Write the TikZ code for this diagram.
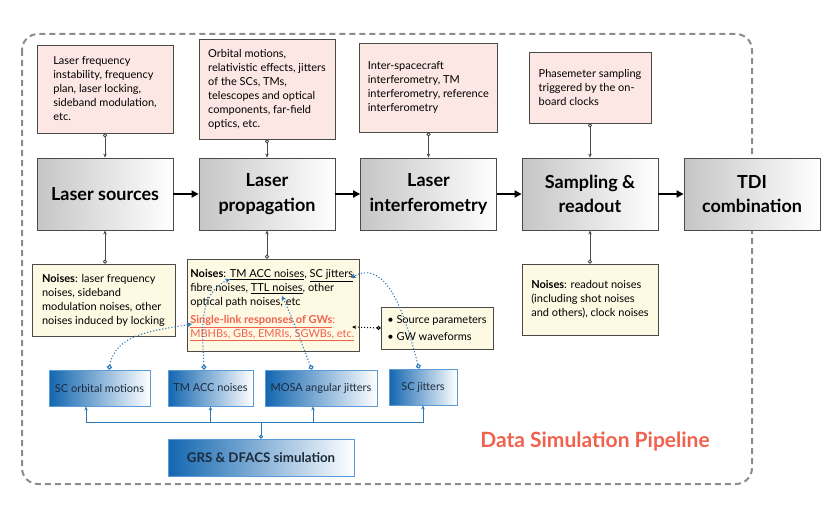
\documentclass[tikz,border=0pt]{standalone}
\usepackage{fontspec}
\setmainfont{Lato}
\usepackage{tikz}
\usetikzlibrary{arrows.meta, positioning}
\definecolor{pinkFill}{HTML}{FDE7E5}
\definecolor{noteFill}{HTML}{FEF9E3}
\definecolor{boxLine}{HTML}{4A4A4A}
\definecolor{blueDark}{HTML}{1266B0}
\definecolor{blueLine}{HTML}{5A9BD8}
\definecolor{blueLink}{HTML}{2C78B8}
\definecolor{blueText}{HTML}{1C2B3C}
\definecolor{coral}{HTML}{F2604E}
\definecolor{frameGrey}{HTML}{8C8C8C}
\tikzset{
    pinkBox/.style={
        rectangle,
        draw=boxLine,
        fill=pinkFill,
        line width=0.8pt,
        align=left,
        inner xsep=8pt,
        font=\fontsize{11}{14}\selectfont
    },
    noteBox/.style={pinkBox, fill=noteFill},
    greyBox/.style={
        rectangle,
        draw=boxLine,
        line width=0.8pt,
        left color=gray!45,
        right color=white,
        align=center,
        minimum width=136pt,
        minimum height=72pt,
        font=\fontsize{18}{24.5}\selectfont\bfseries
    },
    blueBox/.style={
        rectangle,
        draw=blueLine,
        line width=0.8pt,
        left color=blueDark,
        right color=white,
        text=blueText,
        minimum height=36pt,
        font=\fontsize{11}{13}\selectfont
    },
    feedLink/.style={{Circle[open, length=4pt, width=4pt]}-{Stealth[length=4pt, width=3.5pt]}, line width=0.8pt, draw=boxLine},
    flowLink/.style={-{Triangle[length=7pt, width=7pt]}, line width=2pt},
    gwLink/.style={{Circle[open, length=5pt, width=5pt]}-{Stealth[length=5pt, width=5pt]}, dotted, line width=1.1pt, draw=blueLink},
    busLink/.style={-{Stealth[length=4pt, width=3.5pt]}, line width=1pt, draw=blueLink}
}
\begin{document}
\begin{tikzpicture}[x=1pt, y=-1pt]
            \useasboundingbox (0,0) rectangle (832,516);
            
            % Pipeline frame
            \draw[frameGrey, line width=2pt, dash pattern=on 6pt off 4pt, rounded corners=16pt] (22,34) rectangle (752,484);
            
            % Inputs
            \node[pinkBox, minimum width=136pt, minimum height=88pt] (freqBox) at (105,89) {Laser frequency\\instability, frequency\\plan, laser locking,\\sideband modulation,\\etc.};
            \node[pinkBox, minimum width=136pt, minimum height=100pt] (orbitBox) at (267,89) {Orbital motions,\\relativistic effects, jitters\\of the SCs, TMs,\\telescopes and optical\\components, far-field\\optics, etc.};
            \node[pinkBox, minimum width=137pt, minimum height=89pt] (ifoBox) at (428.5,87.5) {Inter-spacecraft\\interferometry, TM\\interferometry, reference\\interferometry\phantom{, reference}};
            \node[pinkBox, minimum width=122pt, minimum height=71pt] (clockBox) at (590,87.5) {Phasemeter sampling\\triggered by the on-\\board clocks};
            
            % Main chain
            \node[greyBox] (srcBox) at (105,194) {Laser sources};
            \node[greyBox] (propBox) at (267,194) {Laser\\propagation};
            \node[greyBox] (intfBox) at (428.5,194) {Laser\\interferometry};
            \node[greyBox] (sampBox) at (590,194) {Sampling \&\\readout};
            \node[greyBox] (tdiBox) at (752,194) {TDI\\combination};
            
            % Noises
            \node[noteBox, minimum width=143pt, minimum height=72pt] (noiseSrc) at (103.5,300) {\textbf{Noises}: laser frequency\\noises, sideband\\modulation noises, other\\noises induced by locking};
            \node[noteBox, inner xsep=3pt, minimum width=172pt, minimum height=92pt] (noiseProp) at (273,305) {\textbf{Noises}: \underline{TM ACC noises}, \underline{SC jitters},\\fibre noises, \underline{TTL noises}, other\\optical path noises, etc\\[4pt]{\color{coral}\textbf{\underline{Single-link responses of GWs}}:}\\{\color{coral}\underline{MBHBs, GBs, EMRIs, SGWBs, etc.}}};
            \node[noteBox, inner xsep=5pt, minimum width=112pt, minimum height=42pt] (srcPar) at (437,328) {\textbullet{} Source parameters\\[3pt]\textbullet{} GW waveforms};
            \node[noteBox, minimum width=136pt, minimum height=71pt] (noiseRead) at (590,299.5) {\textbf{Noises}: readout noises\\(including shot noises\\and others), clock noises};
            
            % Simulated inputs
            \node[blueBox, minimum width=101pt] (orbSim) at (99.5,388) {SC orbital motions};
            \node[blueBox, minimum width=85pt] (tmSim) at (210.5,388) {TM ACC noises};
            \node[blueBox, minimum width=112pt] (mosaSim) at (321,388) {MOSA angular jitters};
            \node[blueBox, minimum width=68pt] (scSim) at (423,387) {SC jitters};
            \node[blueBox, minimum width=186pt, minimum height=37pt, font=\fontsize{13.3}{15}\selectfont\bfseries] (grsSim) at (261,457.5) {GRS \& DFACS simulation};
            
            \node[font=\fontsize{21}{24}\selectfont\bfseries, text=coral] (pipeTitle) at (595,441) {Data Simulation Pipeline};
            
            % Flow arrows
            \draw[flowLink] (srcBox) -- (propBox);
            \draw[flowLink] (propBox) -- (intfBox);
            \draw[flowLink] (intfBox) -- (sampBox);
            \draw[flowLink] (sampBox) -- (tdiBox);
            
            % Inputs and noises into the chain
            \draw[feedLink] (freqBox.south) -- (srcBox.north);
            \draw[feedLink] (orbitBox.south) -- (propBox.north);
            \draw[feedLink] (ifoBox.south) -- (intfBox.north);
            \draw[feedLink] (clockBox.south) -- (sampBox.north);
            \draw[feedLink] (noiseSrc.north -| srcBox.south) -- (srcBox.south);
            \draw[feedLink] (noiseProp.north -| propBox.south) -- (propBox.south);
            \draw[feedLink] (noiseRead.north) -- (sampBox.south);
            
            % GRS bus
            \coordinate (bus) at (261,422);
            \draw[line width=1pt, draw=blueLink, {Circle[open, length=4pt, width=4pt]}-] (grsSim.north) -- (bus);
            \draw[busLink] (bus) -| ([xshift=-13.5pt]orbSim.south);
            \draw[busLink] (bus) -| (tmSim.south);
            \draw[busLink] (bus) -| ([xshift=-8pt]mosaSim.south);
            \draw[busLink] (bus) -| (scSim.south);
            
            % Targets in the noise box
            \coordinate (tgtGW) at (192,324);
            \coordinate (tgtTM) at (230,279);
            \coordinate (tgtTTL) at (282,296);
            \coordinate (tgtSC) at (351,278);
            \coordinate (tgtSrc) at (352,327);
            
            \draw[gwLink] ([xshift=9.5pt]orbSim.north) to[out=80, in=190] (tgtGW);
            \draw[gwLink] ([xshift=-6.5pt]tmSim.north) to[out=92, in=205] (tgtTM);
            \draw[gwLink] ([xshift=-9pt]mosaSim.north) to[out=112, in=-65] (tgtTTL);
            \draw[gwLink] ([xshift=-4pt]scSim.north) to[out=105, in=30] (tgtSC);
            \draw[{Circle[open, length=4pt, width=4pt]}-{Stealth[length=4pt, width=3.5pt]}, dotted, line width=1pt] (srcPar.west) -- (tgtSrc);
        \end{tikzpicture}
\end{document}
